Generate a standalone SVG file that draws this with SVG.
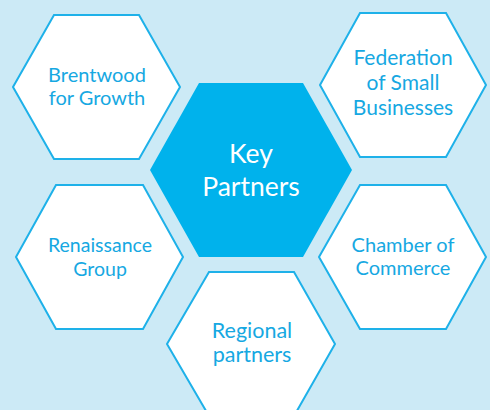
<svg xmlns="http://www.w3.org/2000/svg" width="490" height="410" viewBox="0 0 490 410">
  <style>
    .hex { fill: #ffffff; stroke: #1eb1e9; stroke-width: 2; stroke-linejoin: miter; }
    .core { fill: #00b2ec; stroke: none; }
    .lbl { font-family: Lato, "Open Sans", sans-serif; font-size: 20px; fill: #16a8e2; text-anchor: middle; }
    .big { font-family: Lato, "Open Sans", sans-serif; font-size: 26.5px; fill: #ffffff; text-anchor: middle; }
  </style>
  <rect width="490" height="410" fill="#cceaf6"/>
  <g id="connectors"/>
  <g id="brentwood">
    <polygon class="hex" points="54,15 139,15 180,87 139,159 54,159 13,87"/>
    <text class="lbl" x="97" y="82">Brentwood</text>
    <text class="lbl" x="97" y="105">for Growth</text>
  </g>
  <g id="federation">
    <polygon class="hex" points="360,13 446,13 486,85 446,157 360,157 320,85"/>
    <text class="lbl" x="403" y="65" style="font-size:21px">Federation</text>
    <text class="lbl" x="403" y="90" style="font-size:21px">of Small</text>
    <text class="lbl" x="403" y="115" style="font-size:21px">Businesses</text>
  </g>
  <g id="key-partners">
    <polygon class="core" points="199,83 303,83 352,170 303,257 199,257 150,170"/>
    <text class="big" x="251" y="163">Key</text>
    <text class="big" x="251" y="196">Partners</text>
  </g>
  <g id="renaissance">
    <polygon class="hex" points="56,185 143,185 183,257 143,329 56,329 16,257"/>
    <text class="lbl" x="100" y="252" style="font-size:19.5px">Renaissance</text>
    <text class="lbl" x="100" y="276" style="font-size:19.5px">Group</text>
  </g>
  <g id="chamber">
    <polygon class="hex" points="360,185 446,185 486,257 446,329 360,329 319,257"/>
    <text class="lbl" x="403" y="252">Chamber of</text>
    <text class="lbl" x="403" y="275">Commerce</text>
  </g>
  <g id="regional">
    <polygon class="hex" points="209,272 294,272 335,344 294,416 209,416 167,344"/>
    <text class="lbl" x="252" y="338" style="font-size:21.5px">Regional</text>
    <text class="lbl" x="252" y="362" style="font-size:21.5px">partners</text>
  </g>
</svg>
